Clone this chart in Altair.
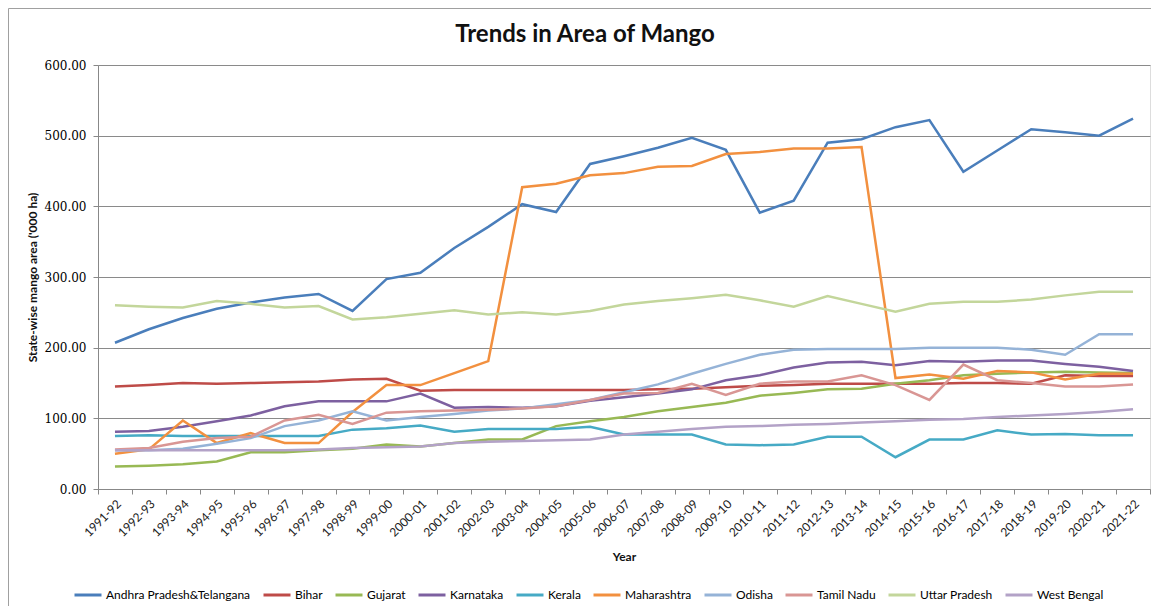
import altair as alt
import pandas as pd

years = ["1991-92", "1992-93", "1993-94", "1994-95", "1995-96", "1996-97", "1997-98",
         "1998-99", "1999-00", "2000-01", "2001-02", "2002-03", "2003-04", "2004-05",
         "2005-06", "2006-07", "2007-08", "2008-09", "2009-10", "2010-11", "2011-12",
         "2012-13", "2013-14", "2014-15", "2015-16", "2016-17", "2017-18", "2018-19",
         "2019-20", "2020-21", "2021-22"]

states = ["Andhra Pradesh&Telangana", "Bihar", "Gujarat", "Karnataka", "Kerala",
          "Maharashtra", "Odisha", "Tamil Nadu", "Uttar Pradesh", "West Bengal"]

colors = ["#4A7EBB", "#BE4B48", "#98B954", "#7D60A0", "#46AAC5",
          "#F2903F", "#95B3D7", "#D99694", "#C3D69B", "#B3A2C7"]

chart_title = "Trends in Area of Mango"

andhra = [207, 226, 242, 255, 264, 271, 276, 252, 297, 306, 341, 371, 403, 392, 460, 471,
          483, 497, 480, 391, 408, 490, 495, 512, 522, 449, 479, 509, 505, 500, 524]
bihar = [145, 147, 150, 149, 150, 151, 152, 155, 156, 139, 140, 140, 140, 140, 140, 140,
         141, 142, 144, 146, 147, 149, 149, 149, 149, 150, 150, 149, 161, 160, 160]
gujarat = [32, 33, 35, 39, 52, 52, 55, 57, 63, 60, 65, 70, 70, 89, 96, 102,
           110, 116, 122, 132, 136, 141, 142, 149, 154, 161, 163, 165, 166, 165, 164]
karnataka = [81, 82, 88, 96, 104, 117, 124, 124, 124, 135, 115, 116, 115, 117, 125, 130,
             135, 141, 154, 161, 172, 179, 180, 175, 181, 180, 182, 182, 177, 173, 167]
kerala = [75, 76, 75, 75, 75, 75, 75, 84, 86, 90, 81, 85, 85, 85, 88, 77,
          77, 77, 63, 62, 63, 74, 74, 45, 70, 70, 83, 77, 78, 76, 76]
maharashtra = [50, 56, 97, 65, 79, 65, 65, 109, 147, 147, 164, 181, 427, 432, 444, 447,
               456, 457, 474, 477, 482, 482, 484, 157, 162, 156, 167, 165, 155, 163, 163]
odisha = [55, 55, 57, 64, 72, 89, 97, 110, 97, 102, 106, 111, 114, 120, 126, 137,
          148, 163, 177, 190, 197, 198, 198, 198, 200, 200, 200, 197, 190, 219, 219]
tamil_nadu = [56, 58, 67, 72, 74, 97, 105, 92, 108, 110, 111, 112, 114, 117, 126, 135,
              136, 149, 133, 149, 152, 152, 161, 147, 126, 176, 154, 150, 145, 145, 148]
uttar_pradesh = [260, 258, 257, 266, 262, 257, 259, 240, 243, 248, 253, 247, 250, 247, 252, 261,
                 266, 270, 275, 267, 258, 273, 262, 251, 262, 265, 265, 268, 274, 279, 279]
west_bengal = [55, 55, 55, 55, 55, 55, 56, 58, 59, 60, 65, 67, 68, 69, 70, 77,
               81, 85, 88, 89, 91, 92, 94, 96, 98, 99, 102, 104, 106, 109, 113]

series = [andhra, bihar, gujarat, karnataka, kerala, maharashtra, odisha,
          tamil_nadu, uttar_pradesh, west_bengal]

rows = []
for state, vals in zip(states, series):
    for yr, v in zip(years, vals):
        rows.append({"Year": yr, "State": state, "Area": v})
df = pd.DataFrame(rows)

y_ticks = [0, 100, 200, 300, 400, 500, 600]

lines = alt.Chart(df).mark_line(strokeWidth=2.5).encode(
    x=alt.X("Year:N", sort=years,
            scale=alt.Scale(type="band", paddingInner=0, paddingOuter=0),
            axis=alt.Axis(title="Year", labelAngle=-45, tickBand="extent",
                          labelFont="Lato", labelFontSize=12, labelColor="#1a1a1a",
                          labelPadding=4, titleFont="Lato", titleFontSize=12,
                          titleFontWeight="bold", titleColor="#111111", titlePadding=13,
                          domainColor="#888888", tickColor="#888888", tickSize=5,
                          grid=False)),
    y=alt.Y("Area:Q", scale=alt.Scale(domain=[0, 600], nice=False),
            axis=alt.Axis(title="State-wise mango area ('000 ha)", values=y_ticks,
                          format=".2f", labelFont="DejaVu Serif", labelFontSize=12,
                          labelColor="#000000", labelPadding=7,
                          titleFont="Lato", titleFontSize=12, titleFontWeight="bold",
                          titleColor="#111111", titlePadding=5,
                          domainColor="#888888", tickColor="#888888", tickSize=5,
                          grid=True, gridColor="#8a8a8a", gridWidth=1)),
    color=alt.Color("State:N", scale=alt.Scale(domain=states, range=colors),
                    legend=alt.Legend(title=None, orient="none", direction="horizontal",
                                      legendX=-25, legendY=515, symbolType="stroke",
                                      symbolSize=729, symbolStrokeWidth=3,
                                      labelFont="Lato", labelFontSize=12,
                                      labelColor="#000000", labelOffset=3,
                                      columnPadding=6, labelLimit=300)),
)

border_df = pd.DataFrame({"k": [0]})
border = alt.Chart(border_df).mark_rect(fillOpacity=0, stroke="#a0a0a0", strokeWidth=1).encode(
    x=alt.value(-89.5), x2=alt.value(1070), y=alt.value(-56.5), y2=alt.value(600)
)

title_df = pd.DataFrame({"t": [chart_title]})
title = alt.Chart(title_df).mark_text(font="Lato", fontSize=24, fontWeight="bold",
                                      color="#111111", align="center",
                                      baseline="alphabetic").encode(
    text="t:N", x=alt.value(487), y=alt.value(-23)
)

chart = alt.layer(border, title, lines).properties(
    width=1052, height=424,
    autosize=alt.AutoSizeParams(type="none"),
    padding={"left": 90, "top": 57, "right": 1, "bottom": 117},
).configure_view(strokeWidth=0).configure(background="white")

chart.save("out.html", embed_options={"renderer": "svg", "actions": False})
